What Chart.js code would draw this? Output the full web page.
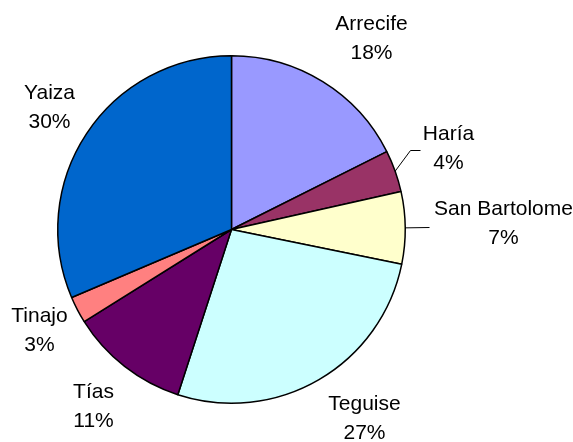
<!DOCTYPE html>
<html lang="es">
<head>
  <meta charset="UTF-8">
  <title>Lanzarote</title>
  <script src="https://cdn.jsdelivr.net/npm/chart.js"></script>
  <style>
    html, body { margin: 0; padding: 0; background: #fff; }
    #wrap { width: 573px; height: 442px; }
  </style>
</head>
<body>
  <div id="wrap"><canvas id="chartCanvas" width="573" height="442"></canvas></div>

  <script>
    // municipalities, clockwise from 12 o'clock
    const categories = ['Arrecife', 'Haría', 'San Bartolome', 'Teguise', 'Tías', 'Tinajo', 'Yaiza'];
    const shares = [17.6, 3.9, 6.7, 26.8, 11.1, 2.5, 31.4];
    const pctLabels = ['18%', '4%', '7%', '27%', '11%', '3%', '30%'];
    const sliceColors = ['#9999FF', '#993366', '#FFFFCC', '#CCFFFF', '#660066', '#FF8080', '#0066CC'];

    // where each two-line label sits, relative to the pie centre (px)
    const labelOffsets = [[140, -191], [217, -81], [272, -6], [133, 189], [-138, 177], [-192, 101], [-182, -122]];
    // leader lines: list of bend points after the slice edge, relative to centre
    const leaders = { 1: [[179, -79], [189, -79]], 2: [[198, -2]] };

    const outsideLabels = {
      id: 'outsideLabels',
      afterDraw(chart) {
        const ctx = chart.ctx;
        const arcs = chart.getDatasetMeta(0).data;
        ctx.save();
        ctx.fillStyle = '#000';
        ctx.strokeStyle = '#000';
        ctx.lineWidth = 1;
        ctx.font = '21px "Liberation Sans", Arial, sans-serif';
        ctx.textAlign = 'center';
        ctx.textBaseline = 'middle';
        arcs.forEach((arc, i) => {
          const cx = arc.x, cy = arc.y;
          const [ox, oy] = labelOffsets[i];
          ctx.fillText(categories[i], cx + ox, cy + oy - 14.5);
          ctx.fillText(pctLabels[i], cx + ox, cy + oy + 14.5);
          if (leaders[i]) {
            const mid = (arc.startAngle + arc.endAngle) / 2;
            ctx.beginPath();
            ctx.moveTo(cx + arc.outerRadius * Math.cos(mid), cy + arc.outerRadius * Math.sin(mid));
            leaders[i].forEach(p => ctx.lineTo(cx + p[0], cy + p[1]));
            ctx.stroke();
          }
        });
        ctx.restore();
      }
    };

    new Chart(document.getElementById('chartCanvas'), {
      type: 'pie',
      data: {
        labels: categories,
        datasets: [{
          data: shares,
          backgroundColor: sliceColors,
          borderColor: '#000',
          borderWidth: 1.5
        }]
      },
      options: {
        responsive: false,
        animation: false,
        layout: { padding: { left: 57, right: 167, top: 55, bottom: 38 } },
        plugins: {
          legend: { display: false },
          tooltip: { enabled: false }
        }
      },
      plugins: [outsideLabels]
    });
  </script>
</body>
</html>
